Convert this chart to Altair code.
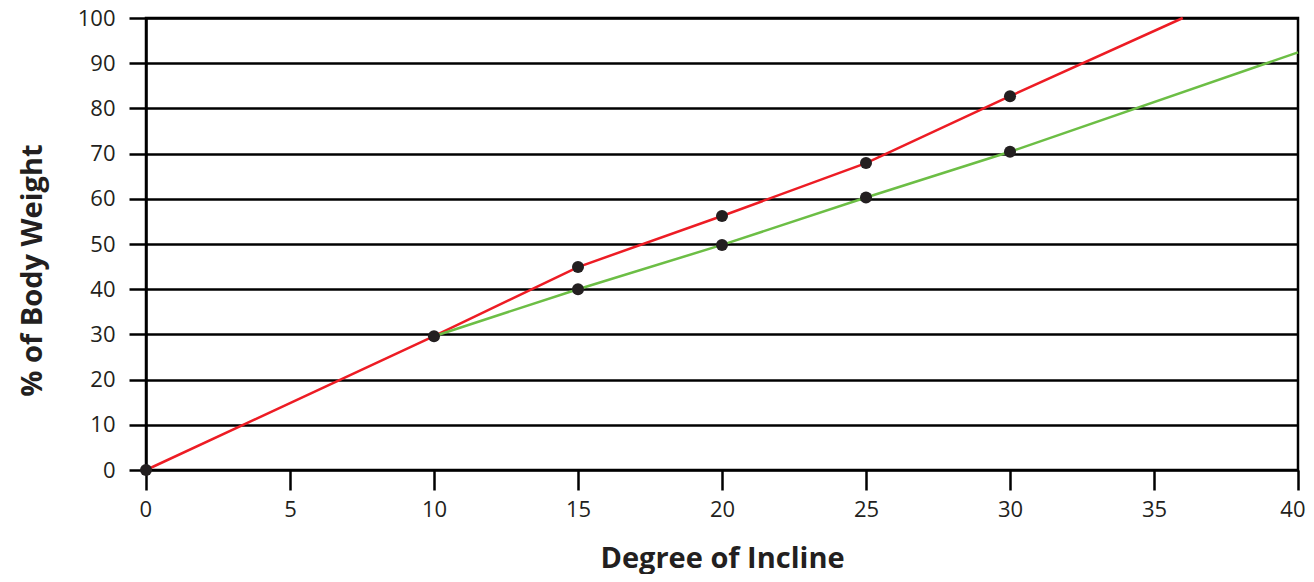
import altair as alt
import pandas as pd

# Red series (line through points, extended to the top edge)
red_x = [0, 10, 15, 20, 25, 30, 36]
red_y = [0, 29.6, 44.9, 56.2, 67.9, 82.7, 100]
# Green series (line through points, extended to the right edge)
green_x = [10, 15, 20, 25, 30, 40]
green_y = [29.6, 40.0, 49.8, 60.3, 70.4, 92.4]
# Measured data points
pt_x = [0, 10, 15, 15, 20, 20, 25, 25, 30, 30]
pt_y = [0, 29.6, 44.9, 40.0, 56.2, 49.8, 67.9, 60.3, 82.7, 70.4]

x_ticks = [0, 5, 10, 15, 20, 25, 30, 35, 40]
y_ticks = [0, 10, 20, 30, 40, 50, 60, 70, 80, 90, 100]

FONT = "Open Sans"
TXT = "#231F20"

lines_df = pd.DataFrame(
    {"x": red_x + green_x, "y": red_y + green_y,
     "series": ["red"] * len(red_x) + ["green"] * len(green_x),
     "order": list(range(len(red_x))) + list(range(len(green_x)))}
)
pts_df = pd.DataFrame({"x": pt_x, "y": pt_y})

xenc = alt.X(
    "x:Q",
    scale=alt.Scale(domain=[0, 40], nice=False, zero=False),
    axis=alt.Axis(
        values=x_ticks, title="Degree of Incline", grid=False, domain=False,
        tickSize=20, tickWidth=2.5, tickColor="black",
        labelFontSize=22, labelFont=FONT, labelColor=TXT, labelPadding=9,
        labelFlush=True, labelFlushOffset=7,
        titleFontSize=29, titleFont=FONT, titleFontWeight="bold", titleColor=TXT,
        titleX=576, titleY=97, titleBaseline="alphabetic", titleAlign="center",
    ),
)
yenc = alt.Y(
    "y:Q",
    scale=alt.Scale(domain=[0, 100], nice=False),
    axis=alt.Axis(
        values=y_ticks, title="% of Body Weight", grid=True,
        gridColor="black", gridWidth=2.5, gridOpacity=1,
        domain=True, domainColor="black", domainWidth=2.5,
        tickSize=17, tickWidth=2.5, tickColor="black",
        labelFontSize=22, labelFont=FONT, labelColor=TXT, labelPadding=14,
        labelFlush=False,
        titleFontSize=29, titleFont=FONT, titleFontWeight="bold", titleColor=TXT,
        titleX=-105, titleY=252, titleBaseline="alphabetic", titleAlign="center",
        titleAngle=270,
    ),
)

lines = alt.Chart(lines_df).mark_line(strokeWidth=2.5).encode(
    x=xenc,
    y=yenc,
    color=alt.Color("series:N", scale=alt.Scale(domain=["red", "green"], range=["#ED1C24", "#6CBE45"]), legend=None),
    order="order:Q",
)

points = alt.Chart(pts_df).mark_circle(size=145, opacity=1, color="#231F20").encode(
    x="x:Q", y="y:Q"
)

chart = (
    alt.layer(lines, points)
    .properties(
        width=1152, height=452,
        autosize=alt.AutoSizeParams(type="none"),
        padding={"left": 138, "top": 10, "right": 8, "bottom": 104},
    )
    .configure_view(stroke="black", strokeWidth=2.5)
)

chart.save("out.html", embed_options={"renderer": "svg", "actions": False})
